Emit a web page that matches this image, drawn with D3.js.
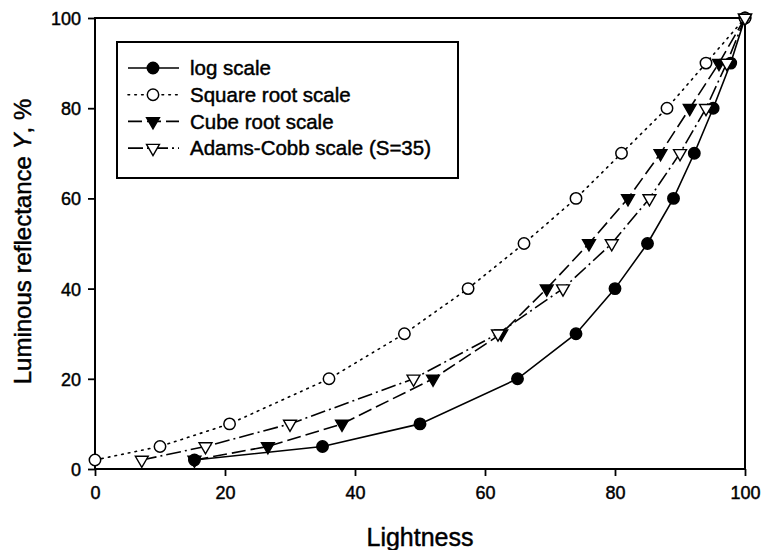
<!DOCTYPE html>
<html>
<head>
<meta charset="utf-8">
<script src="https://cdn.jsdelivr.net/npm/d3@7"></script>
<style>
  html, body { margin: 0; padding: 0; background: #fff; }
  svg { display: block; font-family: "Liberation Sans", Arial, sans-serif; }
  svg text { fill: #000; stroke: #000; stroke-width: 0.45px; }
</style>
</head>
<body>
<svg id="chart" width="762" height="550"></svg>
<script>
// Luminous reflectance Y (%) shared by every scale
const reflectance = [2, 5, 10, 20, 30, 40, 50, 60, 70, 80, 90, 100];

// Lightness values for each lightness scale, one per reflectance step
const logScale        = [15.3, 35, 50, 65, 74, 80, 85, 89, 92.2, 95.1, 97.8, 100];
const squareRootScale = [0, 10, 20.7, 36, 47.6, 57.4, 66, 74, 81, 88, 94, 100];
const cubeRootScale   = [15.3, 26.6, 38, 52, 62.5, 69.5, 76, 82, 87, 91.5, 96, 100];
const adamsCobbScale  = [7.2, 17, 30, 49, 62, 72, 79.5, 85.3, 90, 94, 97.2, 100];

const seriesNames = ["log scale", "Square root scale", "Cube root scale", "Adams-Cobb scale (S=35)"];
const xTicks = [0, 20, 40, 60, 80, 100];
const yTicks = [0, 20, 40, 60, 80, 100];

const series = [
  { name: seriesNames[0], xs: logScale,        dash: null,       marker: "circle",   filled: true  },
  { name: seriesNames[1], xs: squareRootScale, dash: "1.6,5.2",  marker: "circle",   filled: false },
  { name: seriesNames[2], xs: cubeRootScale,   dash: "14,5",     marker: "triangle", filled: true  },
  { name: seriesNames[3], xs: adamsCobbScale,  dash: "15,4,2,4", marker: "triangle", filled: false }
];

const svg = d3.select("#chart");
const plot = { left: 95, right: 745, top: 18, bottom: 469 };

const x = d3.scaleLinear().domain([0, 100]).range([plot.left, plot.right]);
const y = d3.scaleLinear().domain([0, 100]).range([plot.bottom, plot.top]);

// Axes
const xAxis = svg.append("g")
  .attr("transform", `translate(0,${plot.bottom})`)
  .call(d3.axisBottom(x).tickValues(xTicks).tickSize(7).tickSizeOuter(0).tickPadding(10));
const yAxis = svg.append("g")
  .attr("transform", `translate(${plot.left},0)`)
  .call(d3.axisLeft(y).tickValues(yTicks).tickSize(7).tickSizeOuter(0).tickPadding(7));

[xAxis, yAxis].forEach(g => {
  g.select(".domain").remove();
  g.selectAll(".tick line").attr("stroke", "#000").attr("stroke-width", 1.8);
  g.selectAll(".tick text")
    .style("font-family", "'Liberation Sans', Arial, sans-serif")
    .style("font-size", "18px");
});
yAxis.selectAll(".tick text").attr("dy", "0.36em");

// Plot frame
svg.append("rect")
  .attr("x", plot.left).attr("y", plot.top)
  .attr("width", plot.right - plot.left).attr("height", plot.bottom - plot.top)
  .attr("fill", "none").attr("stroke", "#000").attr("stroke-width", 2);

// Axis titles
svg.append("text")
  .attr("x", (plot.left + plot.right) / 2).attr("y", 546)
  .attr("text-anchor", "middle")
  .style("font-size", "25px")
  .text("Lightness");

const yTitle = svg.append("text")
  .attr("transform", `translate(31,${(plot.top + plot.bottom) / 2 - 2}) rotate(-90)`)
  .attr("text-anchor", "middle")
  .style("font-size", "24px");
yTitle.append("tspan").text("Luminous reflectance ");
yTitle.append("tspan").style("font-style", "italic").text("Y");
yTitle.append("tspan").text(", %");

// Lines
const line = d3.line().x(d => x(d[0])).y(d => y(d[1]));
series.forEach(s => {
  const pts = s.xs.map((v, i) => [v, reflectance[i]]);
  svg.append("path")
    .datum(pts)
    .attr("d", line)
    .attr("fill", "none")
    .attr("stroke", "#000")
    .attr("stroke-width", 1.6)
    .attr("stroke-dasharray", s.dash)
    .attr("stroke-linecap", s.dash === "1.6,5.2" ? "round" : "butt");
});

// Markers
const triangle = d3.symbol().type(d3.symbolTriangle).size(72);
function drawMarker(g, s, cx, cy) {
  if (s.marker === "circle") {
    g.append("circle")
      .attr("cx", cx).attr("cy", cy).attr("r", 5.7)
      .attr("fill", s.filled ? "#000" : "#fff")
      .attr("stroke", "#000").attr("stroke-width", 1.5);
  } else {
    g.append("path")
      .attr("d", triangle())
      .attr("transform", `translate(${cx},${cy}) rotate(180)`)
      .attr("fill", s.filled ? "#000" : "#fff")
      .attr("stroke", "#000").attr("stroke-width", 1.4);
  }
}
series.forEach(s => {
  const g = svg.append("g");
  s.xs.forEach((v, i) => drawMarker(g, s, x(v), y(reflectance[i])));
});

// Legend
const legend = { x: 117, y: 42, w: 341, h: 136 };
svg.append("rect")
  .attr("x", legend.x).attr("y", legend.y)
  .attr("width", legend.w).attr("height", legend.h)
  .attr("fill", "#fff").attr("stroke", "#000").attr("stroke-width", 2);

series.forEach((s, i) => {
  const cy = 68 + i * 26.7;
  const g = svg.append("g");
  g.append("line")
    .attr("x1", 128).attr("x2", 179).attr("y1", cy).attr("y2", cy)
    .attr("stroke", "#000").attr("stroke-width", 1.6)
    .attr("stroke-dasharray", s.dash)
    .attr("stroke-linecap", s.dash === "1.6,5.2" ? "round" : "butt");
  drawMarker(g, s, 153, cy);
  g.append("text")
    .attr("x", 190).attr("y", cy)
    .attr("dy", "0.35em")
    .style("font-size", "20.5px")
    .text(s.name);
});
</script>
</body>
</html>
